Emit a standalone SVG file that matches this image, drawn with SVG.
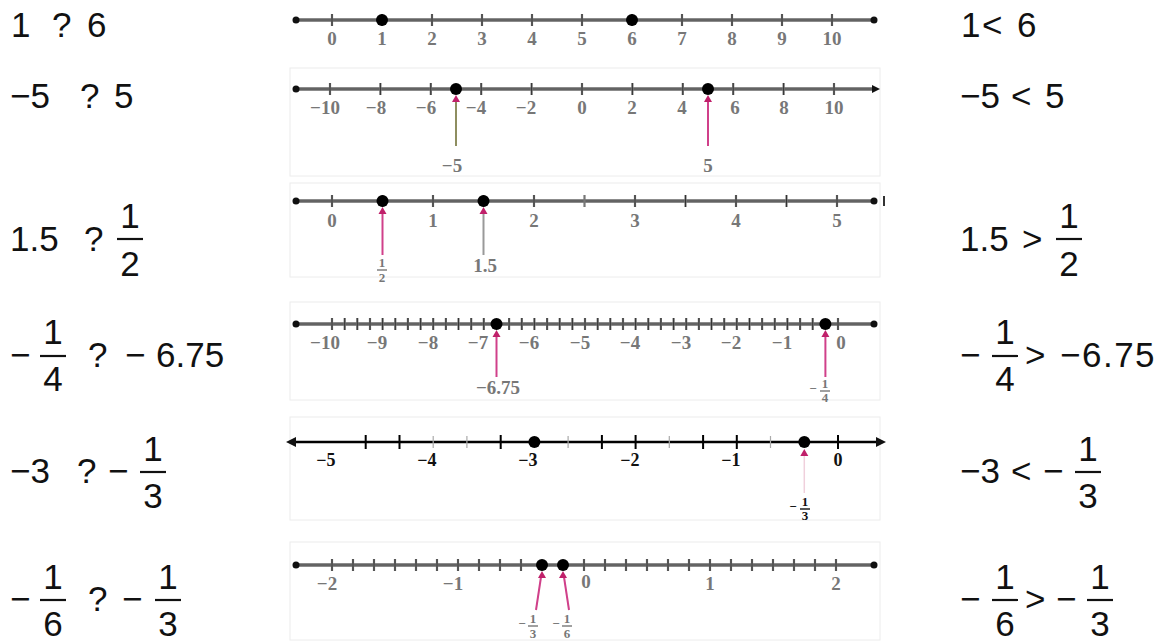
<svg xmlns="http://www.w3.org/2000/svg" width="1165" height="642" viewBox="0 0 1165 642">
<defs>
<style>
.t{font-family:"Liberation Sans",Arial,sans-serif;font-size:35px;fill:#111}
.fc{text-anchor:middle}
.bar{stroke:#111;stroke-width:2.2}
.ax{stroke:#8c8c8c;stroke-width:4;fill:none}
.axc{stroke:#3a3a3a;stroke-width:1;fill:none}
.tk{stroke:#777;stroke-width:2.2;fill:none}
.tkc{stroke:#222;stroke-width:0.8;fill:none}
.lb{font-family:"Liberation Serif","Times New Roman",serif;font-weight:bold;font-size:19px;fill:#777;text-anchor:middle}
.lbk{font-family:"Liberation Serif","Times New Roman",serif;font-weight:bold;font-size:18px;fill:#111;text-anchor:middle}
.sm{font-family:"Liberation Serif","Times New Roman",serif;font-weight:bold;font-size:13px;fill:#777;text-anchor:middle}
.smk{font-family:"Liberation Serif","Times New Roman",serif;font-weight:bold;font-size:13px;fill:#111;text-anchor:middle}
.dot{fill:#000}
.end{fill:#111}
.pk{stroke:#d0408a;stroke-width:2;fill:none}
.pkh{fill:#c0206a}
.box{fill:none;stroke:#ececec;stroke-width:1}
</style>
</defs>

<g id="left-texts">
<g id="q1"><text class="t" y="37"><tspan x="11">1</tspan><tspan x="52">?</tspan><tspan x="87">6</tspan></text></g>
<g id="q2"><text class="t" y="108"><tspan x="10">−5</tspan><tspan x="80">?</tspan><tspan x="114">5</tspan></text></g>
<g id="q3"><text class="t" y="251"><tspan x="10">1.5</tspan><tspan x="84">?</tspan></text>
<text class="t fc" x="130" y="228">1</text><line class="bar" x1="117" y1="239" x2="143" y2="239"/><text class="t fc" x="130" y="276">2</text></g>
<g id="q4"><text class="t" y="367"><tspan x="10">−</tspan><tspan x="88">?</tspan><tspan x="125">−</tspan><tspan x="156">6.75</tspan></text>
<text class="t fc" x="53" y="344">1</text><line class="bar" x1="40" y1="356" x2="66" y2="356"/><text class="t fc" x="53" y="391">4</text></g>
<g id="q5"><text class="t" y="483"><tspan x="10">−3</tspan><tspan x="77">?</tspan><tspan x="108">−</tspan></text>
<text class="t fc" x="153" y="461">1</text><line class="bar" x1="140" y1="472" x2="166" y2="472"/><text class="t fc" x="153" y="508">3</text></g>
<g id="q6"><text class="t" y="611"><tspan x="10">−</tspan><tspan x="88">?</tspan><tspan x="122">−</tspan></text>
<text class="t fc" x="53" y="589">1</text><line class="bar" x1="40" y1="600" x2="66" y2="600"/><text class="t fc" x="53" y="636">6</text>
<text class="t fc" x="168" y="589">1</text><line class="bar" x1="155" y1="600" x2="181" y2="600"/><text class="t fc" x="168" y="636">3</text></g>
</g>

<g id="right-texts">
<g id="a1"><text class="t" y="37"><tspan x="961">1</tspan><tspan x="982">&lt;</tspan><tspan x="1017">6</tspan></text></g>
<g id="a2"><text class="t" y="108"><tspan x="960">−5</tspan><tspan x="1011">&lt;</tspan><tspan x="1045">5</tspan></text></g>
<g id="a3"><text class="t" y="251"><tspan x="960">1.5</tspan><tspan x="1022">&gt;</tspan></text>
<text class="t fc" x="1069" y="228">1</text><line class="bar" x1="1056" y1="239" x2="1082" y2="239"/><text class="t fc" x="1069" y="276">2</text></g>
<g id="a4"><text class="t" y="367"><tspan x="960">−</tspan><tspan x="1025">&gt;</tspan><tspan x="1060" letter-spacing="1.5">−6.75</tspan></text>
<text class="t fc" x="1005" y="344">1</text><line class="bar" x1="992" y1="356" x2="1018" y2="356"/><text class="t fc" x="1005" y="391">4</text></g>
<g id="a5"><text class="t" y="483"><tspan x="960">−3</tspan><tspan x="1011">&lt;</tspan><tspan x="1043">−</tspan></text>
<text class="t fc" x="1088" y="461">1</text><line class="bar" x1="1075" y1="472" x2="1101" y2="472"/><text class="t fc" x="1088" y="508">3</text></g>
<g id="a6"><text class="t" y="611"><tspan x="960">−</tspan><tspan x="1025">&gt;</tspan><tspan x="1056">−</tspan></text>
<text class="t fc" x="1005" y="589">1</text><line class="bar" x1="992" y1="600" x2="1018" y2="600"/><text class="t fc" x="1005" y="636">6</text>
<text class="t fc" x="1100" y="589">1</text><line class="bar" x1="1087" y1="600" x2="1113" y2="600"/><text class="t fc" x="1100" y="636">3</text></g>
</g>

<g id="line1">
<line class="ax" x1="296" y1="20" x2="874" y2="20"/><line class="axc" x1="296" y1="20" x2="874" y2="20"/>
<circle class="end" cx="296" cy="20" r="3.5"/><circle class="end" cx="874" cy="20" r="3.5"/>
<path class="tk" d="M332 14v12M382 14v12M432 14v12M482 14v12M532 14v12M582 14v12M632 14v12M682 14v12M732 14v12M782 14v12M832 14v12"/>
<path class="tkc" d="M332 14v12M432 14v12M482 14v12M532 14v12M582 14v12M682 14v12M732 14v12M782 14v12M832 14v12"/>
<circle class="dot" cx="382" cy="20" r="6"/><circle class="dot" cx="632" cy="20" r="6"/>
<g class="lb"><text x="332" y="45">0</text><text x="382" y="45">1</text><text x="432" y="45">2</text><text x="482" y="45">3</text><text x="532" y="45">4</text><text x="582" y="45">5</text><text x="632" y="45">6</text><text x="682" y="45">7</text><text x="732" y="45">8</text><text x="782" y="45">9</text><text x="832" y="45">10</text></g>
</g>

<g id="line2">
<rect class="box" x="290" y="68" width="590" height="108"/>
<line class="ax" x1="296" y1="89" x2="874" y2="89"/><line class="axc" x1="296" y1="89" x2="874" y2="89"/>
<circle class="end" cx="296" cy="89" r="3.5"/><path class="end" d="M880 89l-8-4v8z"/>
<path class="tk" d="M330 83v12M380.4 83v12M430.8 83v12M481.2 83v12M531.6 83v12M582 83v12M632.4 83v12M682.8 83v12M733.2 83v12M783.6 83v12M834 83v12"/>
<path class="tkc" d="M330 83v12M380.4 83v12M430.8 83v12M481.2 83v12M531.6 83v12M582 83v12M632.4 83v12M682.8 83v12M733.2 83v12M783.6 83v12M834 83v12"/>
<circle class="dot" cx="456" cy="89" r="6"/><circle class="dot" cx="708" cy="89" r="6"/>
<g class="lb"><text x="325" y="114">−10</text><text x="376" y="114">−8</text><text x="426" y="114">−6</text><text x="476" y="114">−4</text><text x="526" y="114">−2</text><text x="582" y="114">0</text><text x="632" y="114">2</text><text x="682" y="114">4</text><text x="735" y="114">6</text><text x="784" y="114">8</text><text x="834" y="114">10</text></g>
<line x1="456" y1="100" x2="456" y2="146" stroke="#8e8e60" stroke-width="2"/><path class="pkh" d="M456 95l-4 7h8z"/>
<line class="pk" x1="708" y1="100" x2="708" y2="146"/><path class="pkh" d="M708 95l-4 7h8z"/>
<text class="lb" x="452" y="172">−5</text><text class="lb" x="708" y="172">5</text>
</g>

<g id="line3">
<rect class="box" x="290" y="183" width="590" height="94"/>
<line class="ax" x1="296" y1="201" x2="874" y2="201"/><line class="axc" x1="296" y1="201" x2="874" y2="201"/>
<circle class="end" cx="296" cy="201" r="3.5"/><circle class="end" cx="874" cy="201" r="3.5"/>
<line x1="884" y1="196" x2="884" y2="206" stroke="#333" stroke-width="2"/>
<path class="tk" d="M332 195v12M382.5 195v12M433 195v12M483.5 195v12M534 195v12M584.5 195v12M635 195v12M685.5 195v12M736 195v12M786.5 195v12M837 195v12"/>
<path class="tkc" d="M332 195v12M433 195v12M534 195v12M635 195v12M685.5 195v12M736 195v12M786.5 195v12M837 195v12"/>
<circle class="dot" cx="382.5" cy="201" r="6"/><circle class="dot" cx="483.5" cy="201" r="6"/>
<g class="lb"><text x="332" y="227">0</text><text x="433" y="227">1</text><text x="534" y="227">2</text><text x="635" y="227">3</text><text x="736" y="227">4</text><text x="837" y="227">5</text></g>
<line class="pk" x1="382.5" y1="212" x2="382.5" y2="255"/><path class="pkh" d="M382.5 207l-4 7h8z"/>
<line x1="483.5" y1="212" x2="483.5" y2="255" stroke="#999" stroke-width="2"/><path class="pkh" d="M483.5 207l-4 7h8z"/>
<text class="sm" x="382" y="267">1</text><line x1="377" y1="270" x2="387" y2="270" stroke="#777" stroke-width="1.4"/><text class="sm" x="382" y="282">2</text>
<text class="lb" x="485" y="272">1.5</text>
</g>

<g id="line4">
<rect class="box" x="290" y="302" width="590" height="98"/>
<line class="ax" x1="296" y1="324" x2="874" y2="324"/><line class="axc" x1="296" y1="324" x2="874" y2="324"/>
<circle class="end" cx="296" cy="324" r="3.5"/><circle class="end" cx="874" cy="324" r="3.5"/>
<path class="tk" d="M332 318v12M344.7 318v12M357.3 318v12M370 318v12M382.6 318v12M395.3 318v12M407.9 318v12M420.6 318v12M433.2 318v12M445.9 318v12M458.5 318v12M471.2 318v12M483.8 318v12M509.1 318v12M521.8 318v12M534.4 318v12M547.1 318v12M559.7 318v12M572.4 318v12M585 318v12M597.7 318v12M610.3 318v12M623 318v12M635.6 318v12M648.3 318v12M660.9 318v12M673.6 318v12M686.2 318v12M698.9 318v12M711.5 318v12M724.2 318v12M736.8 318v12M749.5 318v12M762.1 318v12M774.8 318v12M787.4 318v12M800.1 318v12M812.7 318v12M838 318v12"/>
<path class="tkc" d="M332 318v12M344.7 318v12M357.3 318v12M370 318v12M382.6 318v12M395.3 318v12M407.9 318v12M420.6 318v12M433.2 318v12M445.9 318v12M458.5 318v12M471.2 318v12M483.8 318v12M509.1 318v12M521.8 318v12M534.4 318v12M547.1 318v12M559.7 318v12M572.4 318v12M585 318v12M597.7 318v12M610.3 318v12M623 318v12M635.6 318v12M648.3 318v12M660.9 318v12M673.6 318v12M686.2 318v12M698.9 318v12M711.5 318v12M724.2 318v12M736.8 318v12M749.5 318v12M762.1 318v12M774.8 318v12M787.4 318v12M800.1 318v12M812.7 318v12M838 318v12"/>
<circle class="dot" cx="496.5" cy="324" r="6"/><circle class="dot" cx="825.4" cy="324" r="6"/>
<g class="lb"><text x="325" y="349">−10</text><text x="377" y="349">−9</text><text x="428" y="349">−8</text><text x="478" y="349">−7</text><text x="529" y="349">−6</text><text x="580" y="349">−5</text><text x="630" y="349">−4</text><text x="681" y="349">−3</text><text x="731" y="349">−2</text><text x="782" y="349">−1</text><text x="841" y="349">0</text></g>
<line class="pk" x1="496.5" y1="335" x2="496.5" y2="377"/><path class="pkh" d="M496.5 330l-4 7h8z"/>
<line class="pk" x1="825.4" y1="335" x2="825.4" y2="377"/><path class="pkh" d="M825.4 330l-4 7h8z"/>
<text class="lb" x="498" y="394">−6.75</text>
<text class="sm" x="813" y="393">−</text><text class="sm" x="825" y="388">1</text><line x1="820" y1="391" x2="830" y2="391" stroke="#777" stroke-width="1.4"/><text class="sm" x="825" y="402">4</text>
</g>

<g id="line5">
<rect class="box" x="290" y="417" width="590" height="103"/>
<line x1="292" y1="442" x2="880" y2="442" stroke="#000" stroke-width="2.6"/>
<path class="end" d="M286 442l10-5v10z"/><path class="end" d="M886 442l-10-5v10z"/>
<path stroke="#000" stroke-width="2" fill="none" d="M365.7 435v14M399.5 435v14M500.7 435v14M601.9 435v14M635.6 435v14M703.1 435v14M736.8 435v14M838 435v14"/>
<path stroke="#aaa" stroke-width="1.2" fill="none" d="M433.2 436v12M466.9 436v12M568.1 436v12M669.3 436v12M770.5 436v12"/>
<circle class="dot" cx="534.4" cy="442" r="6"/><circle class="dot" cx="804.3" cy="442" r="6"/>
<g class="lbk"><text x="326" y="466">−5</text><text x="427" y="466">−4</text><text x="528" y="466">−3</text><text x="630" y="466">−2</text><text x="731" y="466">−1</text><text x="838" y="466">0</text></g>
<line x1="804.3" y1="456" x2="804.3" y2="493" stroke="#f0d0dc" stroke-width="1.5"/><path class="pkh" d="M804.3 449l-4 7h8z"/>
<text class="smk" x="793" y="511">−</text><text class="smk" x="805" y="506">1</text>
<line x1="800" y1="509" x2="810" y2="509" stroke="#111" stroke-width="1.4"/>
<text class="smk" x="805" y="520">3</text>
</g>

<g id="line6">
<rect class="box" x="290" y="542" width="590" height="98"/>
<line class="ax" x1="296" y1="565" x2="874" y2="565"/><line class="axc" x1="296" y1="565" x2="874" y2="565"/>
<circle class="end" cx="296" cy="565" r="3.5"/><circle class="end" cx="874" cy="565" r="3.5"/>
<path class="tk" d="M332 559v12M353 559v12M374 559v12M395 559v12M416 559v12M437 559v12M458 559v12M479 559v12M500 559v12M521 559v12M584 559v12M605 559v12M626 559v12M647 559v12M668 559v12M689 559v12M710 559v12M731 559v12M752 559v12M773 559v12M794 559v12M815 559v12M836 559v12"/>
<path class="tkc" d="M332 559v12M353 559v12M374 559v12M395 559v12M416 559v12M437 559v12M458 559v12M479 559v12M500 559v12M521 559v12M584 559v12M605 559v12M626 559v12M647 559v12M668 559v12M689 559v12M710 559v12M731 559v12M752 559v12M773 559v12M794 559v12M815 559v12M836 559v12"/>
<circle class="dot" cx="542" cy="565" r="6"/><circle class="dot" cx="563" cy="565" r="6"/>
<g class="lb"><text x="327" y="590">−2</text><text x="453" y="590">−1</text><text x="586" y="588">0</text><text x="710" y="590">1</text><text x="836" y="590">2</text></g>
<line class="pk" x1="541" y1="577" x2="536" y2="610"/><path class="pkh" d="M542 571l-4 7h8z"/>
<line class="pk" x1="564" y1="577" x2="569" y2="610"/><path class="pkh" d="M563 571l-4 7h8z"/>
<text class="sm" x="522" y="628">−</text><text class="sm" x="533" y="623">1</text><line x1="528" y1="626" x2="538" y2="626" stroke="#777" stroke-width="1.4"/><text class="sm" x="533" y="638">3</text>
<text class="sm" x="556" y="628">−</text><text class="sm" x="567" y="623">1</text><line x1="562" y1="626" x2="572" y2="626" stroke="#777" stroke-width="1.4"/><text class="sm" x="567" y="638">6</text>
</g>
</svg>
